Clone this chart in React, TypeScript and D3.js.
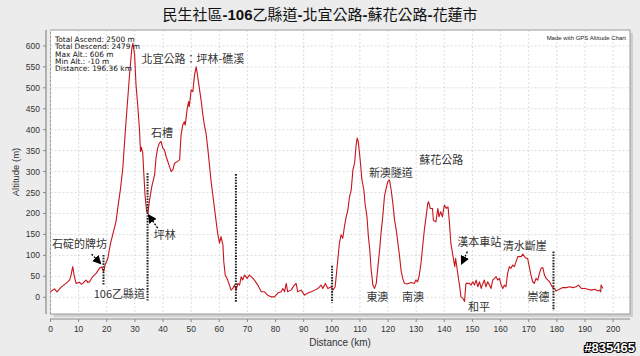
import React from "react";
import * as d3 from "d3";

const distanceKm = [
  0, 1.4, 2.3, 3.8, 5.5, 6.8, 7.3, 7.9, 8.5, 9.1, 10.3, 10.9, 11.5, 12.1, 12.7, 13.3, 13.9, 14.5, 15, 16.2, 17.4, 18.2, 18.9, 19.4,
  20.4, 21, 21.5, 22.1, 23.3, 23.9, 24.9, 25.7, 26.5, 27.2, 28.1, 28.9, 29.3, 29.9, 30.4, 31, 31.6, 32, 32.3, 32.8, 33.2, 33.6, 34.2, 34.6,
  35.2, 36, 37, 37.5, 38.1, 38.7, 39.3, 39.9, 40.5, 41.1, 41.7, 42.3, 42.9, 43.5, 44.1, 45.3, 45.9, 46.4, 47, 47.6, 47.9, 48.6, 49.1, 49.3, 49.6,
  50, 50.6, 51.2, 51.8, 52.4, 53, 53.6, 54.1, 54.7, 55.3, 55.9, 56.5, 57.1, 57.7, 58.3, 58.9, 59.5, 60.1, 60.6, 61.3, 61.6, 62.1, 63, 63.6, 64.2,
  64.8, 65.4, 66, 66.6, 67.2, 67.8, 68.3, 69, 69.9, 70.7, 71.3, 71.9, 72.5, 73.7, 74.9, 76.1, 77.2, 78.4, 79.6, 80.8, 82, 82.6, 83.2, 83.8, 84.3,
  85.5, 86.7, 87.3, 87.9, 89.1, 90.3, 91.5, 92.7, 93.9, 95.1, 96.2, 96.8, 97.7, 98.6, 99.8, 100.4, 101.2, 101.9, 102.7, 103.3, 103.9, 104.5,
  105.1, 105.7, 106.3, 106.9, 107.5, 108.1, 108.6, 109, 109.4, 110.2, 110.7, 111.4, 111.8, 112.5, 113, 113.5, 114, 114.6, 115.2, 115.8, 116.4,
  117, 117.5, 118.1, 118.7, 119.3, 119.9, 120.5, 121.1, 121.7, 122.3, 122.9, 123.5, 124.1, 124.6, 125.2, 125.8, 127, 128.2, 129.3, 129.9, 130.5,
  131.1, 131.7, 132.3, 132.9, 133.5, 134.1, 134.4, 135, 135.8, 136.1, 137, 137.7, 138.1, 138.7, 139.3, 140, 140.7, 141.3, 141.8, 142.3, 143.1,
  143.7, 144, 144.6, 145.1, 145.4, 145.9, 146.5, 147.2, 147.4, 147.7, 148.9, 149.5, 150.1, 150.7, 151.3, 151.9, 152.5, 153.1, 153.7, 154.2,
  154.8, 155.4, 156, 156.6, 157.2, 157.8, 158.4, 159, 159.6, 160.2, 160.8, 161.3, 161.9, 162.5, 163.1, 163.7, 164.3, 164.9, 165.5, 166.1,
  166.7, 167.3, 167.9, 168.5, 169.1, 169.6, 170.2, 170.8, 171.4, 172, 172.6, 173.2, 173.8, 174.4, 175, 175.6, 176.2, 176.8, 177.4, 178,
  178.6, 179.2, 179.7, 180.3, 180.9, 182.1, 183.3, 184.5, 185.7, 186.8, 187.7, 188.7, 189.9, 191.1, 192.3, 193.5, 194.6, 195.2, 195.6, 195.7, 196.36,
];

const altitudeM = [
  13, 20, 13, 24, 33, 41, 53, 73, 49, 33, 36, 31, 33, 38, 41, 35, 37, 44, 49, 57, 69, 72, 61, 77,
  93, 117, 133, 149, 181, 212, 260, 308, 387, 451, 531, 594, 606, 578, 507, 459, 403, 348, 358, 344, 292, 244, 204, 200,
  232, 264, 292, 332, 356, 368, 372, 356, 352, 336, 324, 312, 300, 304, 320, 325, 328, 387, 411, 419, 411, 451, 467, 455, 470,
  495, 491, 531, 550, 523, 495, 467, 439, 411, 391, 356, 316, 276, 244, 212, 180, 149, 129, 145, 125, 85, 53, 41, 29, 17,
  21, 29, 17, 33, 29, 49, 41, 53, 45, 53, 49, 45, 41, 29, 13, 13, 5, 1, 1, 10, 13, 21, 13, 33, 13,
  17, 29, 33, 13, 17, 5, 10, 13, 17, 21, 29, 21, 33, 21, 25, 17, 25, 73, 129, 149, 141, 169,
  192, 208, 240, 256, 304, 320, 360, 380, 372, 320, 280, 256, 224, 192, 145, 113, 65, 29, 21, 33, 73,
  113, 153, 192, 240, 260, 276, 280, 256, 224, 184, 161, 129, 97, 65, 45, 33, 32, 35, 33, 41, 37,
  53, 81, 121, 161, 192, 224, 228, 212, 212, 184, 180, 212, 192, 204, 192, 220, 212, 216, 180, 130, 97,
  73, 93, 65, 41, 29, 1, -2, -10, 10, 33, 33, 29, 37, 29, 41, 25, 37, 21, 33, 41,
  25, 37, 29, 21, 41, 45, 49, 41, 45, 29, 21, 29, 25, 57, 73, 69, 77, 73, 85, 97,
  97, 97, 103, 97, 93, 93, 73, 53, 37, 33, 45, 41, 57, 69, 71, 53, 45, 41, 37, 29,
  23, 21, 15, 17, 19, 23, 23, 25, 23, 25, 29, 21, 21, 19, 17, 19, 15, 17, 13, 29, 21,
];

const xTicks = d3.range(0, 201, 10);
const yTicks = d3.range(0, 601, 50);

const infoLines = [
  "Total Ascend: 2500 m",
  "Total Descend: 2479 m",
  "Max Alt.: 606 m",
  "Min Alt.: -10 m",
  "Distance: 196.36 km",
];

// annotation labels: text, center km, center altitude
const labelText = ["北宜公路：坪林-礁溪", "石槽", "坪林", "石碇的牌坊", "106乙縣道", "新澳隧道", "蘇花公路", "東澳", "南澳", "漢本車站", "清水斷崖", "和平", "崇德"];
const labelKm = [50.6, 39.6, 40.6, 10.3, 24.5, 121, 138.9, 116.2, 128.9, 152.4, 168.6, 152.3, 173.5];
const labelAlt = [568, 391, 149, 127, 8, 296, 328, 0, 0, 132, 122, -24, 1];

// dotted marker lines: km, alt top, alt bottom
const markKm = [18.84, 34.5, 65.9, 100.1, 178.8];
const markTop = [101, 296, 294, 75, 109];
const markBottom = [28, -8, -11, -13, -32];

// arrows: from (km, alt) to (km, alt)
const arrowFromKm = [14.6, 38.1, 148.2];
const arrowFromAlt = [103, 165, 109];
const arrowToKm = [17.9, 34.8, 146.1];
const arrowToAlt = [80, 197, 79];

const W = 640;
const H = 356;
const PL = 50.5, PR = 630, PT = 30, PB = 314;

export default function App() {
  const x = d3.scaleLinear().domain([0, 206]).range([PL, PR]);
  const y = d3.scaleLinear().domain([-40, 638]).range([PB, PT]);
  const pts = distanceKm.map((d, i) => [d, altitudeM[i]] as [number, number]);
  const line = d3.line<[number, number]>().x((d) => x(d[0])).y((d) => y(d[1]));
  const sans = "'Liberation Sans', Arial, sans-serif";
  const dv = "'DejaVu Sans', sans-serif";
  const cjk = "'Noto Sans CJK TC', 'Noto Sans CJK SC', sans-serif";

  return (
    <svg width={W} height={H} style={{ position: "absolute", left: 0, top: 0, display: "block" }}>
      <defs>
        <marker id="ah" viewBox="0 0 10 10" refX="9" refY="5" markerWidth="9" markerHeight="9" markerUnits="userSpaceOnUse" orient="auto">
          <path d="M0,0 L10,5 L0,10 z" fill="#000" />
        </marker>
      </defs>
      <rect x={0} y={0} width={W} height={H} fill="#ececec" />
      {/* title */}
      <text x={320} y={20} textAnchor="middle" fontSize={15} fill="#111" fontFamily={cjk}>
        <tspan>民生社區</tspan>
        <tspan fontWeight="bold" fontFamily={sans}>-106</tspan>
        <tspan>乙縣道</tspan>
        <tspan fontWeight="bold" fontFamily={sans}>-</tspan>
        <tspan>北宜公路</tspan>
        <tspan fontWeight="bold" fontFamily={sans}>-</tspan>
        <tspan>蘇花公路</tspan>
        <tspan fontWeight="bold" fontFamily={sans}>-</tspan>
        <tspan>花蓮市</tspan>
      </text>
      {/* plot shadow + area */}
      <rect x={PL + 3} y={PT + 3} width={PR - PL} height={PB - PT} fill="#cfcfcf" />
      <rect x={PL} y={PT} width={PR - PL} height={PB - PT} fill="#fff" stroke="#9a9a9a" strokeWidth={1} />
      {/* grid */}
      {xTicks.map((t) => (
        <line key={"gx" + t} x1={x(t)} x2={x(t)} y1={PT} y2={PB} stroke="#d4d4d4" strokeWidth={0.8} strokeDasharray="2,2" />
      ))}
      {yTicks.map((t) => (
        <line key={"gy" + t} x1={PL} x2={PR} y1={y(t)} y2={y(t)} stroke="#d4d4d4" strokeWidth={0.8} strokeDasharray="2,2" />
      ))}
      {/* axes */}
      <line x1={46} x2={46} y1={PT} y2={PB} stroke="#8a8a8a" strokeWidth={1.2} />
      <line x1={PL} x2={PR} y1={319} y2={319} stroke="#8a8a8a" strokeWidth={1.2} />
      {yTicks.map((t) => (
        <g key={"yt" + t}>
          <line x1={43} x2={46} y1={y(t)} y2={y(t)} stroke="#8a8a8a" />
          <text x={40} y={y(t) + 3} textAnchor="end" fontSize={8.5} fill="#333" fontFamily={sans}>{t}</text>
        </g>
      ))}
      {xTicks.map((t) => (
        <g key={"xt" + t}>
          <line x1={x(t)} x2={x(t)} y1={319} y2={322} stroke="#8a8a8a" />
          <text x={x(t)} y={332} textAnchor="middle" fontSize={8.5} fill="#333" fontFamily={sans}>{t}</text>
        </g>
      ))}
      <text x={340} y={346} textAnchor="middle" fontSize={10} fill="#333" fontFamily={sans}>Distance (km)</text>
      <text transform="translate(19,172) rotate(-90)" textAnchor="middle" fontSize={9.5} fill="#333" fontFamily={sans}>Altitude (m)</text>
      {/* profile */}
      <path d={line(pts) || ""} fill="none" stroke="#c8141c" strokeWidth={1.1} strokeLinejoin="round" />
      {/* dotted markers */}
      {markKm.map((k, i) => (
        <line key={"mk" + i} x1={x(k)} x2={x(k)} y1={y(markTop[i])} y2={y(markBottom[i])} stroke="#222" strokeWidth={2} strokeDasharray="1.6,1.2" />
      ))}
      {/* arrows */}
      {arrowFromKm.map((k, i) => (
        <line key={"ar" + i} x1={x(k)} y1={y(arrowFromAlt[i])} x2={x(arrowToKm[i])} y2={y(arrowToAlt[i])} stroke="#000" strokeWidth={1.3} strokeDasharray="2,1.5" markerEnd="url(#ah)" />
      ))}
      {/* labels */}
      {labelText.map((t, i) => (
        <text key={"lb" + i} x={x(labelKm[i])} y={y(labelAlt[i]) + 4} textAnchor="middle" fontSize={11} fill="#333" fontFamily={cjk}>{t}</text>
      ))}
      {/* info */}
      {infoLines.map((s, i) => (
        <text key={"in" + i} x={55} y={42} dy={i * 7.3} fontSize={7.4} fill="#111" fontFamily={dv}>{s}</text>
      ))}
      <text x={626} y={39.5} textAnchor="end" fontSize={6} fill="#222" fontFamily={sans}>Made with GPS Altitude Chart</text>
      <text x={635} y={352} textAnchor="end" fontSize={13} fontWeight="bold" fill="#fff" stroke="#000" strokeWidth={2.2} paintOrder="stroke" fontFamily={sans}>#835465</text>
    </svg>
  );
}
